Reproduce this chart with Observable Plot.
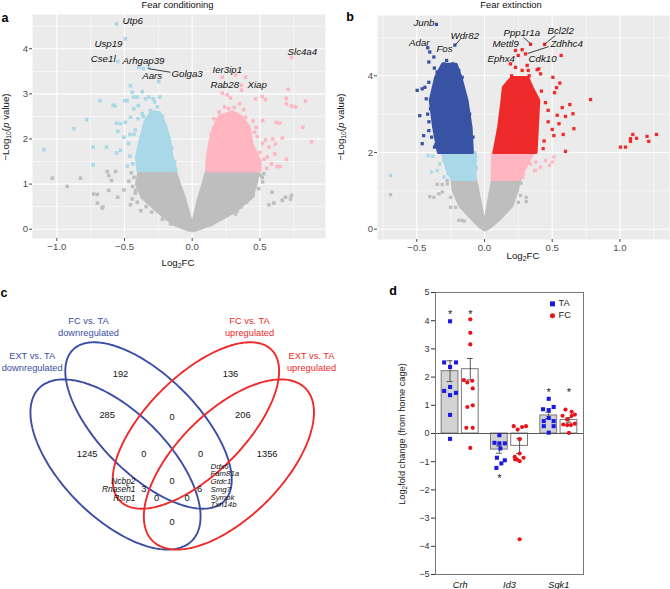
<!DOCTYPE html>
<html><head><meta charset="utf-8">
<script src="https://cdn.jsdelivr.net/npm/d3@7"></script>
<script src="https://cdn.jsdelivr.net/npm/@observablehq/plot@0.6"></script>
<style>
body{margin:0;background:#fff;}
#root{position:relative;width:670px;height:589px;overflow:hidden;font-family:"Liberation Sans",Arial,Helvetica,sans-serif;color:#000;}
.lbl{position:absolute;white-space:nowrap;line-height:1;}
.panel{position:absolute;}
.sub{font-size:70%;vertical-align:-0.3em;}
</style></head><body><div id="root"></div>
<script>
const FONT = '"Liberation Sans", Arial, Helvetica, sans-serif';

// ---------- Panel a: Fear conditioning volcano ----------
const aXMajor = [-1.0, -0.5, 0.0, 0.5];
const aXMinor = [-0.75, -0.25, 0.25, 0.75];
const aYMajor = [0, 1, 2, 3, 4];
const aYMinor = [0.5, 1.5, 2.5, 3.5, 4.5];
const fcGrayCore = [[-0.39,1.3],[-0.41,1.0],[-0.37,0.71],[-0.26,0.41],[-0.14,0.12],[-0.04,0.0],[0,-0.03],[0.04,0.0],[0.15,0.12],[0.32,0.41],[0.44,0.71],[0.47,1.0],[0.49,1.3],[0.11,1.3],[0.05,0.7],[0,0.07],[-0.06,0.7],[-0.13,1.3]];
const fcDownCore = [[-0.40,1.3],[-0.12,1.3],[-0.15,1.6],[-0.17,2.0],[-0.2,2.3],[-0.24,2.58],[-0.3,2.6],[-0.345,2.4],[-0.38,2.0],[-0.41,1.6]];
const fcUpCore = [[0.11,1.3],[0.5,1.3],[0.5,1.5],[0.44,1.9],[0.42,2.26],[0.36,2.5],[0.3,2.6],[0.2,2.5],[0.16,2.26],[0.13,1.9],[0.11,1.5]];
const fcNsPts = [[-1.034,1.13],[-0.923,0.95],[-0.825,1.13],[-0.727,0.78],[-0.70,0.58],[-0.665,0.47],[-0.616,0.86],[-0.596,1.08],[-0.55,0.71],[-0.505,0.87],[-0.468,1.06],[-0.628,1.28],[-0.566,1.28],[-0.443,0.67],[-0.419,0.86],[-0.456,0.54],[-0.406,0.60],[-0.38,0.41],[-0.616,1.19],[-0.70,0.77],[-0.66,0.49],[0.59,0.82],[0.566,0.54],[0.603,0.58],[0.665,0.64],[0.689,0.71],[0.733,0.75],[0.726,0.67],[0.517,1.15],[0.529,1.23],[0.32,0.34],[0.307,0.41],[0.332,0.41],[0.5,1.2],[0.52,1.05],[0.49,0.9],[0.45,0.75],[0.4,0.6],[0.36,0.5],[-0.45,1.25],[-0.43,1.15],[-0.44,0.95],[-0.42,0.8],[-0.34,0.5],[-0.3,0.38],[-0.22,0.22],[-0.16,0.12]];
const fcDownPts = [[-1.096,1.76],[-0.874,2.23],[-0.78,2.43],[-0.682,2.85],[-0.731,1.82],[-0.731,1.43],[-0.633,1.82],[-0.583,2.75],[-0.572,2.73],[-0.559,2.35],[-0.549,2.17],[-0.559,1.69],[-0.53,2.34],[-0.53,1.75],[-0.498,2.85],[-0.48,2.85],[-0.493,2.37],[-0.505,2.04],[-0.456,3.18],[-0.443,3.04],[-0.431,2.93],[-0.431,2.67],[-0.406,2.93],[-0.399,2.74],[-0.369,3.05],[-0.345,2.89],[-0.32,2.93],[-0.288,2.89],[-0.278,2.82],[-0.239,2.93],[-0.258,2.71],[-0.308,2.63],[-0.369,2.56],[-0.456,2.48],[-0.394,3.59],[-0.362,3.56],[-0.32,3.59],[-0.247,3.27],[-0.549,3.72],[-0.493,4.22],[-0.559,4.55],[-0.44,1.45],[-0.46,1.62],[-0.47,1.9],[-0.43,2.1],[-0.42,2.2],[-0.4,2.45],[-0.36,2.5],[-0.22,2.5],[-0.2,2.2],[-0.15,1.8],[-0.13,1.5],[-0.46,2.1],[-0.48,1.4]];
const fcUpPts = [[0.733,3.81],[0.709,3.10],[0.694,2.90],[0.696,2.78],[0.733,2.73],[0.763,2.71],[0.837,2.84],[0.817,2.26],[0.881,1.94],[0.696,1.55],[0.665,2.02],[0.645,2.35],[0.62,2.37],[0.517,2.94],[0.541,2.87],[0.468,2.89],[0.394,3.37],[0.364,3.19],[0.364,3.08],[0.32,3.42],[0.222,3.37],[0.222,3.02],[0.259,2.98],[0.283,2.91],[0.35,2.78],[0.239,2.71],[0.27,2.67],[0.381,2.65],[0.394,2.48],[0.521,2.41],[0.473,2.26],[0.595,2.0],[0.615,1.89],[0.566,1.82],[0.61,1.67],[0.628,1.39],[0.647,1.39],[0.554,1.60],[0.586,1.45],[0.541,1.98],[0.5,1.7],[0.52,1.9],[0.48,2.05],[0.46,2.15],[0.53,1.55],[0.55,1.35],[0.45,2.4],[0.16,2.45],[0.14,2.1],[0.12,1.7],[0.31,2.7],[0.2,2.6]];
const fcLabels = [
  {t:"Utp6",x:-0.515,y:4.61,a:"start"},{t:"Usp19",x:-0.515,y:4.10,a:"end"},{t:"Cse1l",x:-0.566,y:3.78,a:"end"},
  {t:"Arhgap39",x:-0.515,y:3.74,a:"start"},{t:"Aars",x:-0.369,y:3.39,a:"start"},{t:"Golga3",x:-0.153,y:3.45,a:"start"},
  {t:"Ier3ip1",x:0.15,y:3.54,a:"start"},{t:"Rab28",x:0.135,y:3.21,a:"start"},{t:"Xiap",x:0.408,y:3.21,a:"start"},
  {t:"Slc4a4",x:0.704,y:3.94,a:"start"}];
const fcLeaders = [{x1:-0.325,y1:3.56,x2:-0.16,y2:3.48}];

// ---------- Panel b: Fear extinction volcano ----------
const bXMajor = [-0.5, 0.0, 0.5, 1.0];
const bXMinor = [-0.75, -0.25, 0.25, 0.75, 1.25];
const bYMajor = [0, 2, 4];
const bYMinor = [1, 3, 5];
const extGrayCore = [[-0.24,1.3],[-0.23,1.0],[-0.18,0.6],[-0.1,0.3],[-0.03,0.05],[0,-0.02],[0.04,0.05],[0.12,0.3],[0.2,0.6],[0.24,1.0],[0.26,1.3],[0.06,1.3],[0,0.12],[-0.066,1.3]];
const extDownLightCore = [[-0.31,2.0],[-0.068,2.0],[-0.07,1.3],[-0.24,1.3],[-0.28,1.6]];
const extUpLightCore = [[0.06,2.0],[0.36,2.0],[0.3,1.6],[0.25,1.3],[0.057,1.3]];
const extDownCore = [[-0.34,2.0],[-0.09,2.0],[-0.1,2.66],[-0.13,3.36],[-0.175,3.96],[-0.21,4.3],[-0.31,4.3],[-0.36,3.96],[-0.40,3.36],[-0.375,2.66]];
const extUpCore = [[0.07,2.0],[0.38,2.0],[0.39,2.66],[0.40,3.36],[0.35,3.7],[0.32,3.95],[0.2,3.95],[0.14,3.7],[0.13,3.36],[0.105,2.66]];
const extNsPts = [[-0.694,0.90],[-0.349,1.17],[-0.312,0.97],[-0.374,0.83],[-0.275,1.18],[-0.251,0.83],[-0.214,0.57],[-0.19,0.23],[-0.15,0.21],[-0.404,0.85],[-0.337,0.92],[-0.312,1.16],[-0.275,1.27],[-0.251,0.57],[-0.165,0.23],[0.266,0.88],[0.308,0.83],[0.308,0.72],[0.242,1.01],[0.27,1.2],[0.25,0.7]];
const extDownLightPts = [[-0.694,1.40],[-0.416,1.92],[-0.382,1.90],[-0.349,1.53],[-0.391,1.49],[-0.30,1.36],[-0.332,1.70],[-0.3,1.8],[-0.27,1.45],[-0.06,1.6],[-0.065,1.9]];
const extUpLightPts = [[0.303,1.88],[0.34,1.70],[0.377,1.75],[0.369,1.53],[0.414,1.62],[0.512,1.88],[0.50,1.75],[0.29,1.44],[0.45,1.79],[0.48,1.66],[0.377,1.53],[0.33,1.95],[0.28,1.35]];
const extDownPts = [[-0.355,5.34],[-0.419,4.73],[-0.404,4.62],[-0.219,4.80],[-0.374,4.49],[-0.411,4.36],[-0.30,4.31],[-0.234,4.31],[-0.497,3.62],[-0.46,3.66],[-0.44,3.70],[-0.411,3.83],[-0.478,2.96],[-0.449,2.44],[-0.46,2.23],[-0.411,2.57],[-0.349,2.14],[-0.337,2.36],[-0.399,3.14],[-0.19,4.14],[-0.165,3.96],[-0.14,3.44],[-0.369,2.14],[-0.42,3.0],[-0.41,2.8],[-0.39,2.4],[-0.36,2.2],[-0.35,4.1],[-0.28,4.4],[-0.11,3.0],[-0.085,2.4],[-0.43,3.4],[-0.37,4.2]];
const extUpPts = [[0.34,4.82],[0.443,4.82],[0.303,4.57],[0.278,4.68],[0.566,4.53],[0.315,4.27],[0.401,4.18],[0.414,4.05],[0.505,3.96],[0.532,3.69],[0.556,3.81],[0.517,3.56],[0.783,3.38],[0.63,3.25],[0.574,3.17],[0.653,3.01],[0.598,2.94],[0.537,2.97],[0.66,2.62],[0.581,2.47],[0.512,2.44],[0.598,2.03],[0.433,2.10],[1.004,2.14],[1.041,2.14],[1.078,2.36],[1.078,2.29],[1.095,2.47],[1.123,2.37],[1.20,2.42],[1.213,2.29],[1.27,2.47],[0.229,4.66],[0.249,4.53],[0.192,4.31],[0.229,4.22],[0.278,4.14],[0.323,4.14],[0.389,4.16],[0.155,3.62],[0.143,3.27],[0.13,3.01],[0.106,2.44],[0.45,3.3],[0.47,2.8],[0.5,2.6],[0.44,2.3],[0.42,3.6],[0.47,3.1],[0.55,2.75],[0.2,4.0],[0.33,4.0]];
const extLabels = [
  {t:"Junb",x:-0.369,y:5.39,a:"end"},{t:"Adar",x:-0.406,y:4.87,a:"end"},{t:"Fos",x:-0.355,y:4.69,a:"start"},
  {t:"Wdr82",x:-0.251,y:5.05,a:"start"},{t:"Ppp1r1a",x:0.14,y:5.13,a:"start"},{t:"Bcl2l2",x:0.465,y:5.16,a:"start"},
  {t:"Mettl9",x:0.059,y:4.82,a:"start"},{t:"Zdhhc4",x:0.487,y:4.82,a:"start"},{t:"Ephx4",x:0.022,y:4.43,a:"start"},
  {t:"Cdk10",x:0.325,y:4.43,a:"start"}];
const extLeaders = [{x1:0.288,y1:5.0,x2:0.34,y2:4.84},{x1:0.524,y1:5.05,x2:0.443,y2:4.82},{x1:0.473,y1:4.76,x2:0.318,y2:4.58},{x1:-0.177,y1:4.96,x2:-0.214,y2:4.81}];

// ---------- Panel c: Venn ----------
const vennNames = ["EXT vs. TA\ndownregulated","FC vs. TA\ndownregulated","FC vs. TA\nupregulated","EXT vs. TA\nupregulated"];
const vennColors = ["#3b4ea3","#3b4ea3","#ee2a2a","#ee2a2a"];
const vennCx = [115, 148, 195.4, 228.4];
const vennCy = [174, 135, 135, 174];
const vennA = [108, 107, 107, 108];
const vennB = [53, 49, 49, 53];
const vennAngle = [45, 45, -45, -45];
const vennNameX = [31.7, 88, 249, 311];
const vennNameY = [71, 36, 36, 71];
const vennCounts = ["192","136","285","0","206","1245","0","0","1356","0","3","6","0","0","0"];
const vennCountX = [120,230,106.7,171.7,242.3,86.7,143.3,200,266.7,171.7,143.3,199,156,186.7,171.7];
const vennCountY = [83.3,83.3,125,126.7,125,163.3,163.3,163.3,163.3,191,199,199,207.3,207.3,231.7];
const genesAC = ["Ncbp2","Rnaseh1","Rsrp1"];
const genesBD = ["Ddx6","Fam81a","Gtdc1","Smg7","Sympk","Txn14b"];

// ---------- Panel d: qPCR bars ----------
const dGenes = ["Crh","Id3","Sgk1"];
const taMean = [2.21, -0.57, 0.64];
const fcMean = [2.28, -0.44, 0.48];
const taSem = [0.37, 0.13, 0.11];
const fcSem = [0.38, 0.27, 0.08];
const taStar = [4.3, -1.5, 1.55];
const fcStar = [4.3, null, 1.55];
const taVals = [[3.98,2.52,2.52,2.36,1.51,1.65,1.36,1.44,0.66,-0.19],[-0.06,-0.33,-0.35,-0.35,-0.53,-0.86,-0.95,-1.06,-1.22],[1.23,0.86,0.83,0.94,0.44,0.55,0.44,0.26,0.26,0.03]];
const taJit = [[0,-0.12,0.12,0,-0.12,0,0,0.12,0,0],[0,-0.1,0,0.11,0.02,-0.05,0.11,0.04,-0.06],[0,-0.115,0,0.1,-0.1,0,0.1,-0.1,0.1,0]];
const fcVals = [[4.05,3.57,3.16,1.89,1.81,1.87,1.60,0.94,1.0,0.2,0.2,-0.51],[0.26,0.14,0.23,0.26,-0.2,-0.71,-0.83,-0.92,-0.98,-0.86,-0.92,-3.75],[0.85,0.77,0.67,0.63,0.5,0.62,0.32,0.3,0.3,0.35,0.02]];
const fcJit = [[0,0,0,-0.13,-0.06,0.04,0.05,-0.06,0.05,-0.08,0.05,0],[-0.12,-0.04,0.05,0.13,0,0,-0.1,-0.055,0,0.08,-0.09,0],[-0.07,0.055,0.12,-0.13,-0.035,0.055,-0.115,-0.035,0.04,0.12,0]];
const dYTicks = [-5,-4,-3,-2,-1,0,1,2,3,4,5];

// ---------- helpers ----------
const root = document.getElementById("root");
function place(node, x, y) {
  const d = document.createElement("div");
  d.className = "panel"; d.style.left = x + "px"; d.style.top = y + "px";
  d.appendChild(node); root.appendChild(d);
}
function label(html, x, y, o = {}) {
  const d = document.createElement("div");
  d.className = "lbl"; d.innerHTML = html;
  d.style.left = x + "px"; d.style.top = y + "px";
  d.style.fontSize = (o.size || 9.5) + "px";
  if (o.weight) d.style.fontWeight = o.weight;
  if (o.color) d.style.color = o.color;
  if (o.italic) d.style.fontStyle = "italic";
  const ax = o.anchor === "start" ? "0%" : o.anchor === "end" ? "-100%" : "-50%";
  d.style.transform = `translate(${ax},-50%)` + (o.rotate ? ` rotate(${o.rotate}deg)` : "");
  root.appendChild(d);
}
const poly = (data, color, sw) => Plot.line(data, {x: d => d[0], y: d => d[1], fill: color, stroke: color, strokeWidth: sw, strokeLinejoin: "round", curve: "linear-closed"});
const sq = (data, color, r) => Plot.dot(data, {x: d => d[0], y: d => d[1], symbol: "square", r, fill: color});

function volcano(o) {
  return Plot.plot({
    width: 335, height: 290,
    marginLeft: o.ml, marginRight: o.mr, marginTop: o.mt, marginBottom: o.mb,
    style: {background: "transparent", fontFamily: FONT, overflow: "visible"},
    x: {domain: o.xDomain}, y: {domain: o.yDomain},
    marks: [
      Plot.frame({fill: "#EBEBEB", stroke: null}),
      Plot.gridX(o.xMinor, {stroke: "#fff", strokeOpacity: 1, strokeWidth: 0.55}),
      Plot.gridY(o.yMinor, {stroke: "#fff", strokeOpacity: 1, strokeWidth: 0.55}),
      Plot.gridX(o.xMajor, {stroke: "#fff", strokeOpacity: 1, strokeWidth: 1.1}),
      Plot.gridY(o.yMajor, {stroke: "#fff", strokeOpacity: 1, strokeWidth: 1.1}),
      Plot.axisX(o.xMajor, {tickFormat: d3.format(".1f"), tickSize: 3, tickPadding: 1.5, fontSize: 9.6, color: "#4d4d4d", label: null}),
      Plot.axisY(o.yMajor, {tickFormat: d3.format("d"), tickSize: 3, tickPadding: 1.5, fontSize: 9.6, color: "#4d4d4d", label: null}),
      ...o.layers,
      Plot.link(o.leaders, {x1: "x1", y1: "y1", x2: "x2", y2: "y2", stroke: "#111", strokeWidth: 0.8}),
      Plot.text(o.labels.filter(d => d.a === "start"), {x: "x", y: "y", text: "t", textAnchor: "start", fontStyle: "italic", fontSize: 9.7, fill: "#111"}),
      Plot.text(o.labels.filter(d => d.a === "end"), {x: "x", y: "y", text: "t", textAnchor: "end", fontStyle: "italic", fontSize: 9.7, fill: "#111"})
    ]
  });
}

// ---------- panel a ----------
const GRAY = "#BEBEBE", LBLUE = "#A9D8E8", LPINK = "#FFB6C1", DBLUE = "#3953A4", RED = "#EE2A2A";
place(volcano({
  ml: 32, mr: 10, mt: 14, mb: 52,
  xDomain: [-1.1795, 0.9845], yDomain: [-0.206, 4.760],
  xMajor: aXMajor, xMinor: aXMinor, yMajor: aYMajor, yMinor: aYMinor,
  layers: [
    poly(fcGrayCore, GRAY, 3.5), sq(fcNsPts, GRAY, 2),
    poly(fcDownCore, LBLUE, 3.5), poly(fcUpCore, LPINK, 3.5),
    sq(fcDownPts, LBLUE, 2), sq(fcUpPts, LPINK, 2)
  ],
  leaders: fcLeaders, labels: fcLabels
}), 0, 0);

// ---------- panel b ----------
place(volcano({
  ml: 42, mr: 1, mt: 15, mb: 51,
  xDomain: [-0.790, 1.366], yDomain: [-0.269, 5.572],
  xMajor: bXMajor, xMinor: bXMinor, yMajor: bYMajor, yMinor: bYMinor,
  layers: [
    poly(extGrayCore, GRAY, 3.2), sq(extNsPts, GRAY, 1.85),
    poly(extDownLightCore, LBLUE, 3.2), poly(extUpLightCore, LPINK, 3.2),
    sq(extDownLightPts, LBLUE, 1.85), sq(extUpLightPts, LPINK, 1.85),
    poly(extDownCore, DBLUE, 3.2), poly(extUpCore, RED, 3.2),
    sq(extDownPts, DBLUE, 1.85), sq(extUpPts, RED, 1.85)
  ],
  leaders: extLeaders, labels: extLabels
}), 335, 0);

// ---------- panel c ----------
const ellipses = vennNames.map((n, i) => {
  const th = vennAngle[i] * Math.PI / 180, pts = [];
  for (let k = 0; k < 180; k++) {
    const t = 2 * Math.PI * k / 180;
    pts.push([vennCx[i] + vennA[i] * Math.cos(t) * Math.cos(th) - vennB[i] * Math.sin(t) * Math.sin(th),
              vennCy[i] + vennA[i] * Math.cos(t) * Math.sin(th) + vennB[i] * Math.sin(t) * Math.cos(th)]);
  }
  return pts;
});
const countRows = vennCounts.map((c, i) => ({c, x: vennCountX[i], y: vennCountY[i]}));
const nameRows = vennNames.map((n, i) => ({n, x: vennNameX[i], y: vennNameY[i], col: vennColors[i]}));
place(Plot.plot({
  width: 335, height: 299, margin: 0,
  style: {background: "transparent", fontFamily: FONT, overflow: "visible"},
  x: {domain: [0, 335], range: [0, 335], axis: null},
  y: {domain: [0, 299], range: [0, 299], axis: null},
  marks: [
    ...ellipses.map((e, i) => Plot.line(e, {x: d => d[0], y: d => d[1], stroke: vennColors[i], strokeWidth: 1.9, curve: "linear-closed"})),
    Plot.text(countRows, {x: "x", y: "y", text: "c", fontSize: 9.3, fill: "#111"}),
    ...nameRows.map(r => Plot.text([r], {x: "x", y: "y", text: "n", fontSize: 9.3, lineHeight: 1.25, fill: r.col})),
    Plot.text([genesAC.join("\n")], {x: 135, y: 199, text: d => d, textAnchor: "end", fontStyle: "italic", fontSize: 8.4, lineHeight: 1.04, fill: "#111"}),
    Plot.text([genesBD.join("\n")], {x: 210, y: 195, text: d => d, textAnchor: "start", fontStyle: "italic", fontSize: 7.8, lineHeight: 1.0, fill: "#111"})
  ]
}), 0, 290);

// ---------- panel d ----------
const OFF = 0.205, HW = 0.17, CAP = 0.06;
const bars = [];
dGenes.forEach((g, i) => {
  bars.push({x: i + 1 - OFF, m: taMean[i], s: taSem[i], fill: "#d3d3d3"});
  bars.push({x: i + 1 + OFF, m: fcMean[i], s: fcSem[i], fill: "#ffffff"});
});
const taPts = [], fcPts = [], stars = [];
dGenes.forEach((g, i) => {
  taVals[i].forEach((v, k) => taPts.push({x: i + 1 - OFF + taJit[i][k], v}));
  fcVals[i].forEach((v, k) => fcPts.push({x: i + 1 + OFF + fcJit[i][k], v}));
  if (taStar[i] != null) stars.push({x: i + 1 - OFF, y: taStar[i]});
  if (fcStar[i] != null) stars.push({x: i + 1 + OFF, y: fcStar[i]});
});
place(Plot.plot({
  width: 335, height: 299, marginLeft: 100, marginRight: 87, marginTop: 2, marginBottom: 15,
  style: {background: "transparent", fontFamily: FONT, overflow: "visible"},
  x: {domain: [0.5, 3.5], axis: null},
  y: {domain: [-5, 5]},
  marks: [
    Plot.rect(bars, {x1: d => d.x - HW, x2: d => d.x + HW, y1: 0, y2: "m", fill: "fill", stroke: "#7a7a7a", strokeWidth: 1}),
    Plot.ruleX(bars, {x: "x", y1: d => d.m - d.s, y2: d => d.m + d.s, stroke: "#333", strokeWidth: 0.8}),
    Plot.ruleY(bars, {y: d => d.m + d.s, x1: d => d.x - CAP, x2: d => d.x + CAP, stroke: "#333", strokeWidth: 0.8}),
    Plot.ruleY(bars, {y: d => d.m - d.s, x1: d => d.x - CAP, x2: d => d.x + CAP, stroke: "#333", strokeWidth: 0.8}),
    Plot.ruleY([0], {stroke: "#555", strokeWidth: 1}),
    Plot.dot(taPts, {x: "x", y: "v", symbol: "square", r: 2.3, fill: "#1a1ae6"}),
    Plot.dot(fcPts, {x: "x", y: "v", r: 2.1, fill: "#e8141b"}),
    Plot.text(stars, {x: "x", y: "y", text: () => "*", fontSize: 11, dy: 2.5, fill: "#222"}),
    Plot.text(dGenes, {x: (d, i) => i + 1, y: -5, text: d => d, dy: 11, fontStyle: "italic", fontSize: 9.2, fill: "#111"}),
    Plot.axisY(dYTicks, {tickSize: 4, tickPadding: 2, fontSize: 9, color: "#333", label: null}),
    Plot.frame({stroke: "#777", strokeWidth: 1})
  ]
}), 335, 290);

// ---------- text overlays ----------
label("Fear conditioning", 177.5, 5, {size: 9.4, color: "#111"});
label("Fear extinction", 511, 5, {size: 9.4, color: "#111"});
label("a", 5, 18, {size: 12.5, weight: "bold"});
label("b", 350, 17, {size: 12.5, weight: "bold"});
label("c", 4, 293, {size: 12.5, weight: "bold"});
label("d", 393, 291, {size: 12.5, weight: "bold"});
label('Log<span class="sub">2</span>FC', 178, 264, {size: 9.7, color: "#111"});
label('Log<span class="sub">2</span>FC', 523, 257, {size: 9.7, color: "#111"});
label('\u2212Log<span class="sub">10</span>(<i>p</i> value)', 6.5, 127, {size: 9.7, rotate: -90, color: "#111"});
label('\u2212Log<span class="sub">10</span>(<i>p</i> value)', 341.5, 127, {size: 9.7, rotate: -90, color: "#111"});
label('Log<span class="sub">2</span>fold change (from home cage)', 403.3, 434, {size: 9.2, rotate: -90, color: "#222"});
// legend for panel d
label('<span style="display:inline-block;width:4.5px;height:4.5px;background:#1a1ae6;margin-right:4px;vertical-align:middle"></span>TA', 550, 304, {size: 9.3, anchor: "start", color: "#222"});
label('<span style="display:inline-block;width:4.5px;height:4.5px;border-radius:50%;background:#e8141b;margin-right:4px;vertical-align:middle"></span>FC', 550, 316, {size: 9.3, anchor: "start", color: "#222"});
</script></body></html>
